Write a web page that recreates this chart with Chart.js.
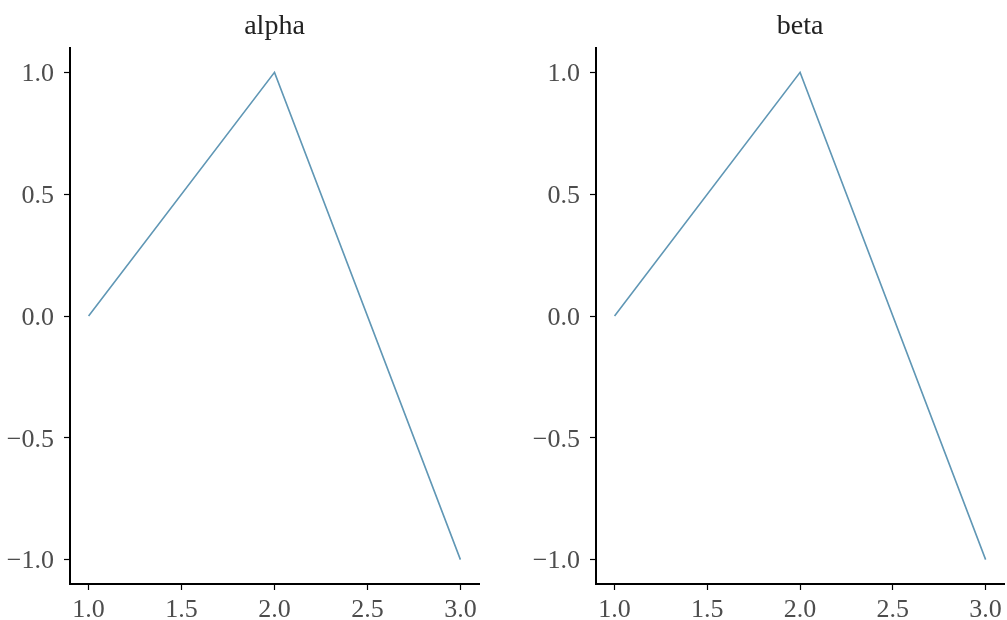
<!DOCTYPE html>
<html>
<head>
<meta charset="utf-8">
<script src="https://cdn.jsdelivr.net/npm/chart.js@4"></script>
<style>
  html, body { margin: 0; padding: 0; background: #fff; }
  #wrap { position: relative; width: 1007px; height: 620px; overflow: hidden; }
  .panel { position: absolute; top: 0; height: 620px; }
</style>
</head>
<body>
<div id="wrap">
  <div class="panel" style="left:0; width:500px;"><canvas id="c-alpha"></canvas></div>
  <div class="panel" style="left:526px; width:481px;"><canvas id="c-beta"></canvas></div>
</div>
<script>
// ── Data ─────────────────────────────────────────────────────
const xValues     = [1, 2, 3];
const alphaValues = [0, 1, -1];
const betaValues  = [0, 1, -1];
const xTicks      = [1.0, 1.5, 2.0, 2.5, 3.0];
const yTicks      = [-1.0, -0.5, 0.0, 0.5, 1.0];
const titles      = ['alpha', 'beta'];

// ── Style ────────────────────────────────────────────────────
const SERIF      = '"Liberation Serif", "DejaVu Serif", serif';
const LINE_COLOR = '#6097b5';
const TICK_COLOR = '#4d4d4d';

const fmt = v => (v < 0 ? '\u2212' : '') + Math.abs(v).toFixed(1);

function makeChart(id, title, values, padRight) {
  const points = xValues.map((x, i) => ({ x, y: values[i] }));
  const tickFont = { family: SERIF, size: 26 };

  return new Chart(document.getElementById(id), {
    type: 'line',
    data: {
      datasets: [{
        data: points,
        borderColor: LINE_COLOR,
        borderWidth: 1.6,
        pointRadius: 0,
        tension: 0,
        fill: false,
      }],
    },
    options: {
      responsive: true,
      maintainAspectRatio: false,
      animation: false,
      layout: { padding: { left: 0, right: padRight, top: 0, bottom: 0 } },
      plugins: {
        legend: { display: false },
        tooltip: { enabled: false },
        title: {
          display: true,
          fullSize: false,   // centre the title over the plot area
          text: title,
          color: '#222',
          font: { family: SERIF, size: 28, weight: 'normal' },
          padding: { top: 10, bottom: 4.4 },
        },
      },
      scales: {
        x: {
          type: 'linear',
          min: 0.9,
          max: 3.1,
          afterBuildTicks: s => { s.ticks = xTicks.map(v => ({ value: v })); },
          afterFit: s => { s.height = 36; },
          ticks: { color: TICK_COLOR, font: tickFont, padding: 5, callback: v => fmt(v), maxRotation: 0 },
          grid: { drawOnChartArea: false, drawTicks: true, tickLength: 6, color: '#000', tickWidth: 1.2 },
          border: { display: true, color: '#000', width: 2 },
        },
        y: {
          type: 'linear',
          min: -1.1,
          max: 1.1,
          afterBuildTicks: s => { s.ticks = yTicks.map(v => ({ value: v })); },
          afterFit: s => { s.width = 70; },
          ticks: { color: TICK_COLOR, font: tickFont, padding: 10, labelOffset: 2, callback: v => fmt(v) },
          grid: { drawOnChartArea: false, drawTicks: true, tickLength: 6, color: '#000', tickWidth: 1.2 },
          border: { display: true, color: '#000', width: 2 },
        },
      },
    },
  });
}

makeChart('c-alpha', titles[0], alphaValues, 21);
makeChart('c-beta', titles[1], betaValues, 2);
</script>
</body>
</html>
